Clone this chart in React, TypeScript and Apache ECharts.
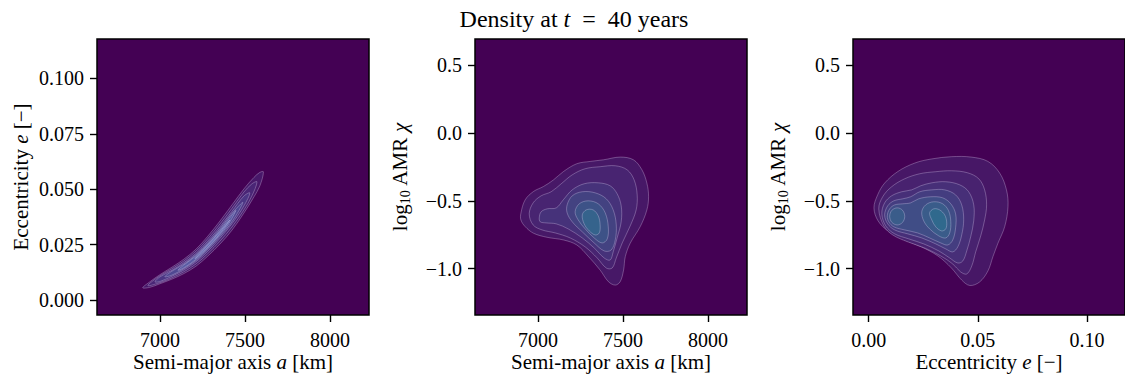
import React, { useEffect, useRef } from "react";
import * as echarts from "echarts";

// ---------- axis ticks / ranges ----------
const A_TICKS = [7000, 7500, 8000];
const E_TICKS_Y = [0, 0.025, 0.05, 0.075, 0.1];
const CHI_TICKS = [-1.0, -0.5, 0.0, 0.5];
const E_TICKS_X = [0, 0.05, 0.1];
const A_RANGE = [6630, 8230];
const E_RANGE = [-0.0068, 0.1178];
const E_RANGE_X = [-0.0072, 0.1174];
const CHI_RANGE = [-1.343, 0.695];

// ---------- panel 1: a vs e contours (outer -> inner) ----------
const aeLevel1 = [[6899,0.0055],[6941,0.0082],[7000,0.0114],[7071,0.0148],[7141,0.0184],[7212,0.0229],[7282,0.0288],[7353,0.0356],[7424,0.0429],[7494,0.0501],[7553,0.0553],[7588,0.0576],[7609,0.0578],[7588,0.0515],[7553,0.0465],[7494,0.0392],[7424,0.0315],[7353,0.0252],[7282,0.0198],[7212,0.0152],[7141,0.0119],[7071,0.0094],[7000,0.0073],[6941,0.0057]];
const aeLevel2 = [[6929,0.0065],[7000,0.0109],[7071,0.0141],[7141,0.0176],[7212,0.0220],[7282,0.0277],[7353,0.0343],[7424,0.0414],[7494,0.0487],[7541,0.0524],[7571,0.0533],[7541,0.0469],[7494,0.0406],[7424,0.0329],[7353,0.0265],[7282,0.0209],[7212,0.0162],[7141,0.0127],[7071,0.0100],[7000,0.0078]];
const aeLevel3 = [[6971,0.0082],[7000,0.0104],[7071,0.0134],[7141,0.0168],[7212,0.0210],[7282,0.0266],[7353,0.0330],[7424,0.0400],[7494,0.0469],[7529,0.0483],[7494,0.0424],[7424,0.0344],[7353,0.0278],[7282,0.0220],[7212,0.0172],[7141,0.0135],[7071,0.0107],[7000,0.0083]];
const aeLevel4 = [[7029,0.0105],[7071,0.0130],[7141,0.0162],[7212,0.0204],[7282,0.0258],[7353,0.0321],[7424,0.0391],[7488,0.0440],[7424,0.0353],[7353,0.0287],[7282,0.0228],[7212,0.0178],[7141,0.0141],[7071,0.0112]];
const aeLevel5 = [[7106,0.0134],[7141,0.0158],[7212,0.0199],[7282,0.0252],[7353,0.0314],[7400,0.0360],[7447,0.0404],[7400,0.0338],[7353,0.0294],[7282,0.0234],[7212,0.0183],[7141,0.0145]];
const aeLevel6 = [[7206,0.0186],[7282,0.0248],[7353,0.0309],[7412,0.0361],[7353,0.0299],[7282,0.0238]];
const aeContours = [aeLevel1, aeLevel2, aeLevel3, aeLevel4, aeLevel5, aeLevel6];
const aeLevels = [0, 1, 2, 3, 4, 5];

// ---------- panel 2: a vs log10 AMR ----------
const achiLevel1 = [[6900,-0.591],[6925,-0.493],[6974,-0.431],[7033,-0.394],[7092,-0.345],[7151,-0.283],[7229,-0.226],[7308,-0.209],[7386,-0.197],[7484,-0.177],[7562,-0.197],[7612,-0.271],[7641,-0.369],[7651,-0.468],[7641,-0.567],[7602,-0.690],[7543,-0.813],[7514,-0.912],[7504,-1.011],[7484,-1.097],[7455,-1.122],[7415,-1.097],[7366,-1.011],[7298,-0.912],[7229,-0.826],[7151,-0.789],[7053,-0.769],[6974,-0.739],[6925,-0.690],[6900,-0.641]];
const achiLevel2 = [[6949,-0.596],[6972,-0.515],[7019,-0.463],[7078,-0.433],[7137,-0.374],[7202,-0.308],[7278,-0.263],[7366,-0.248],[7455,-0.241],[7525,-0.271],[7566,-0.345],[7584,-0.456],[7578,-0.567],[7543,-0.685],[7496,-0.811],[7461,-0.922],[7437,-0.996],[7402,-0.996],[7349,-0.922],[7278,-0.840],[7190,-0.774],[7102,-0.737],[7025,-0.715],[6972,-0.678]];
const achiLevel3 = [[7008,-0.626],[7019,-0.581],[7055,-0.559],[7108,-0.552],[7149,-0.493],[7202,-0.419],[7272,-0.374],[7355,-0.367],[7425,-0.389],[7466,-0.448],[7490,-0.537],[7490,-0.655],[7466,-0.774],[7443,-0.877],[7425,-0.937],[7390,-0.922],[7331,-0.848],[7261,-0.774],[7178,-0.707],[7108,-0.670],[7049,-0.663],[7014,-0.655]];
const achiLevel4 = [[7172,-0.530],[7202,-0.463],[7261,-0.433],[7337,-0.441],[7402,-0.485],[7443,-0.567],[7461,-0.678],[7455,-0.789],[7431,-0.863],[7390,-0.870],[7331,-0.811],[7261,-0.729],[7202,-0.655],[7172,-0.589]];
const achiLevel5 = [[7219,-0.581],[7243,-0.522],[7296,-0.500],[7355,-0.522],[7396,-0.589],[7414,-0.692],[7408,-0.781],[7378,-0.811],[7331,-0.774],[7278,-0.707],[7237,-0.641]];
const achiLevel6 = [[7261,-0.604],[7284,-0.567],[7325,-0.567],[7355,-0.611],[7366,-0.678],[7361,-0.737],[7337,-0.752],[7302,-0.722],[7272,-0.670]];
const achiContours = [achiLevel1, achiLevel2, achiLevel3, achiLevel4, achiLevel5, achiLevel6];
const achiLevels = [0, 1, 2, 3, 4, 5];

// ---------- panel 3: e vs log10 AMR ----------
const echiLevel1 = [[0.0024,-0.552],[0.0041,-0.456],[0.0073,-0.369],[0.0134,-0.283],[0.0211,-0.221],[0.0287,-0.191],[0.0379,-0.174],[0.0470,-0.177],[0.0546,-0.209],[0.0600,-0.295],[0.0631,-0.419],[0.0638,-0.542],[0.0623,-0.690],[0.0592,-0.813],[0.0569,-0.912],[0.0546,-1.018],[0.0508,-1.099],[0.0463,-1.125],[0.0426,-1.085],[0.0379,-0.996],[0.0317,-0.907],[0.0241,-0.840],[0.0165,-0.789],[0.0088,-0.722],[0.0043,-0.648]];
const echiLevel2 = [[0.0046,-0.559],[0.0064,-0.470],[0.0105,-0.396],[0.0165,-0.337],[0.0234,-0.300],[0.0307,-0.285],[0.0380,-0.278],[0.0453,-0.293],[0.0504,-0.337],[0.0531,-0.419],[0.0540,-0.530],[0.0531,-0.641],[0.0513,-0.759],[0.0490,-0.877],[0.0472,-0.981],[0.0449,-1.040],[0.0421,-1.025],[0.0385,-0.966],[0.0330,-0.907],[0.0256,-0.848],[0.0179,-0.803],[0.0110,-0.752],[0.0069,-0.685]];
const echiLevel3 = [[0.0060,-0.596],[0.0073,-0.515],[0.0105,-0.463],[0.0151,-0.433],[0.0197,-0.419],[0.0238,-0.389],[0.0289,-0.367],[0.0353,-0.359],[0.0417,-0.382],[0.0458,-0.433],[0.0481,-0.530],[0.0481,-0.648],[0.0467,-0.766],[0.0449,-0.870],[0.0431,-0.944],[0.0408,-0.959],[0.0371,-0.922],[0.0321,-0.870],[0.0252,-0.818],[0.0183,-0.781],[0.0119,-0.744],[0.0078,-0.685]];
const echiLevel4 = [[0.0073,-0.604],[0.0087,-0.537],[0.0115,-0.500],[0.0156,-0.485],[0.0192,-0.470],[0.0234,-0.433],[0.0289,-0.419],[0.0348,-0.419],[0.0398,-0.456],[0.0426,-0.530],[0.0435,-0.641],[0.0426,-0.752],[0.0408,-0.840],[0.0385,-0.877],[0.0353,-0.855],[0.0307,-0.818],[0.0243,-0.774],[0.0179,-0.744],[0.0119,-0.715],[0.0087,-0.670]];
const echiLevel5 = [[0.0085,-0.611],[0.0096,-0.559],[0.0119,-0.530],[0.0156,-0.522],[0.0192,-0.515],[0.0229,-0.485],[0.0284,-0.470],[0.0339,-0.478],[0.0376,-0.522],[0.0398,-0.596],[0.0398,-0.700],[0.0385,-0.789],[0.0362,-0.826],[0.0330,-0.811],[0.0279,-0.774],[0.0224,-0.737],[0.0165,-0.715],[0.0115,-0.692],[0.0092,-0.655]];
const echiLevel6Main = [[0.0243,-0.581],[0.0261,-0.530],[0.0298,-0.507],[0.0339,-0.522],[0.0366,-0.574],[0.0376,-0.655],[0.0371,-0.737],[0.0353,-0.774],[0.0321,-0.759],[0.0279,-0.707],[0.0252,-0.648]];
const echiLevel6Left = [[0.0096,-0.615],[0.0106,-0.570],[0.0131,-0.552],[0.0155,-0.570],[0.0165,-0.615],[0.0155,-0.659],[0.0131,-0.678],[0.0106,-0.659]];
const echiLevel7 = [[0.0279,-0.589],[0.0298,-0.559],[0.0325,-0.567],[0.0348,-0.604],[0.0357,-0.655],[0.0353,-0.707],[0.0334,-0.722],[0.0307,-0.692],[0.0289,-0.641]];
const echiContours = [echiLevel1, echiLevel2, echiLevel3, echiLevel4, echiLevel5, echiLevel6Main, echiLevel6Left, echiLevel7];
const echiLevels = [0, 1, 2, 3, 4, 5, 5, 6];

// ---------- styles ----------
const FONT = "Liberation Serif";
const BG = "#440154";
const LINE = "rgba(235,220,250,0.5)";
const aeFills = ["#48186a", "#4a2676", "#4c3684", "#504892", "#5a5ca4", "#6a6eb4"];
const achiFills = ["#471867", "#482471", "#46327a", "#434281", "#3d5287", "#35638c"];
const echiFills = ["#471766", "#48226f", "#472f78", "#443d80", "#404d86", "#3a5c8a", "#30698d"];

const minus = (s: string) => s.replace("-", "\u2212");

function valueAxis(gridIndex: number, range: number[], ticks: number[], fmt: (v: number) => string, margin: number) {
  return {
    type: "value",
    gridIndex,
    min: range[0],
    max: range[1],
    axisLine: { show: false, onZero: false },
    axisTick: { show: true, inside: false, length: 7, lineStyle: { color: "#000", width: 1.4 }, customValues: ticks },
    axisLabel: { show: true, margin, color: "#000", fontFamily: FONT, fontSize: 20, formatter: fmt, customValues: ticks },
    splitLine: { show: false },
  };
}

function contourSeries(idx: number, polys: number[][][], levels: number[], fills: string[]) {
  return {
    type: "custom",
    xAxisIndex: idx,
    yAxisIndex: idx,
    clip: true,
    silent: true,
    data: polys.map((p, i) => [p[0][0], p[0][1], i]),
    encode: { x: 0, y: 1 },
    renderItem: (params: any, api: any) => {
      const i = params.dataIndex;
      const pts = polys[i].map((pt) => api.coord(pt));
      return {
        type: "polygon",
        shape: { points: pts, smooth: 0.35 },
        style: { fill: fills[levels[i]], stroke: LINE, lineWidth: 0.6 },
      };
    },
  };
}

const labelStyle = (text: string, size: number) => ({
  text,
  fontFamily: FONT,
  fontSize: size,
  fill: "#000",
  align: "center",
  verticalAlign: "middle",
  rich: {
    r: { fontFamily: FONT, fontSize: size, lineHeight: 24, fill: "#000" },
    i: { fontFamily: FONT, fontSize: size, fontStyle: "italic", lineHeight: 24, fill: "#000" },
    s: { fontFamily: FONT, fontSize: 14, lineHeight: 14, verticalAlign: "bottom", fill: "#000" },
  },
});

export default function App() {
  const ref = useRef<HTMLDivElement>(null);
  useEffect(() => {
    document.body.style.margin = "0";
    const chart = echarts.init(ref.current!, null, { renderer: "svg" });
    const grids = [
      { left: 97, top: 39, width: 272, height: 276 },
      { left: 475, top: 39, width: 272, height: 276 },
      { left: 853, top: 39, width: 272, height: 276 },
    ].map((g) => ({ ...g, show: true, backgroundColor: BG, borderColor: "#000", borderWidth: 1.5, containLabel: false }));

    chart.setOption({
      animation: false,
      textStyle: { fontFamily: FONT },
      grid: grids,
      xAxis: [
        valueAxis(0, A_RANGE, A_TICKS, (v) => String(v), 15),
        valueAxis(1, A_RANGE, A_TICKS, (v) => String(v), 15),
        valueAxis(2, E_RANGE_X, E_TICKS_X, (v) => minus(v.toFixed(2)), 15),
      ],
      yAxis: [
        valueAxis(0, E_RANGE, E_TICKS_Y, (v) => minus(v.toFixed(3)), 13),
        valueAxis(1, CHI_RANGE, CHI_TICKS, (v) => minus(v.toFixed(1)), 13),
        valueAxis(2, CHI_RANGE, CHI_TICKS, (v) => minus(v.toFixed(1)), 13),
      ],
      series: [
        contourSeries(0, aeContours, aeLevels, aeFills),
        contourSeries(1, achiContours, achiLevels, achiFills),
        contourSeries(2, echiContours, echiLevels, echiFills),
      ],
      graphic: [
        { type: "text", x: 574, y: 18.5, style: { ...labelStyle("{r|Density at }{i|t}{r|  =  40 years}", 24), rich: {
          r: { fontFamily: FONT, fontSize: 24, fill: "#000" },
          i: { fontFamily: FONT, fontSize: 24, fontStyle: "italic", fill: "#000" },
        } } },
        { type: "text", x: 233, y: 362, style: labelStyle("{r|Semi-major axis }{i|a}{r| [km]}", 21) },
        { type: "text", x: 611, y: 362, style: labelStyle("{r|Semi-major axis }{i|a}{r| [km]}", 21) },
        { type: "text", x: 989, y: 362, style: labelStyle("{r|Eccentricity }{i|e}{r| [\u2212]}", 21) },
        { type: "text", x: 21, y: 177, rotation: Math.PI / 2, style: labelStyle("{r|Eccentricity }{i|e}{r| [\u2212]}", 21) },
        { type: "text", x: 400, y: 177, rotation: Math.PI / 2, style: labelStyle("{r|log}{s|10}{r| AMR }{i|\u03c7}", 21) },
        { type: "text", x: 778, y: 177, rotation: Math.PI / 2, style: labelStyle("{r|log}{s|10}{r| AMR }{i|\u03c7}", 21) },
      ],
    });
    return () => chart.dispose();
  }, []);
  return <div ref={ref} style={{ width: 1125, height: 379 }} />;
}
